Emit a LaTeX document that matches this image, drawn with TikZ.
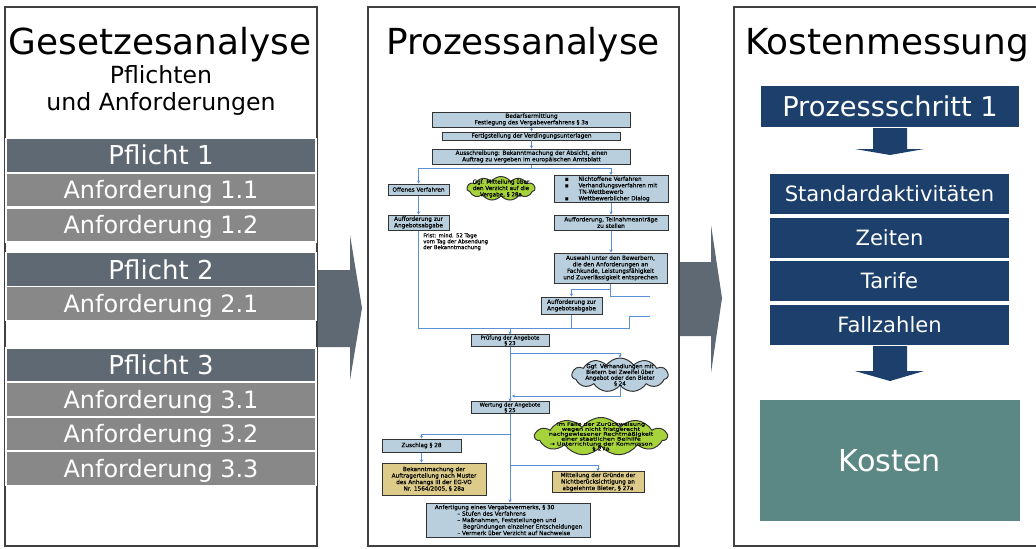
\documentclass[tikz,border=0pt]{standalone}
\usepackage{fontspec}
\setmainfont{DejaVu Sans}
\newfontfamily\ablaufschrift[FakeBold=0.35]{DejaVu Sans}
\newfontfamily\wolkenschrift[FakeStretch=1.3,FakeBold=0.35]{DejaVu Sans}
\usetikzlibrary{shapes.symbols,arrows.meta}
\definecolor{pflichtgrau}{RGB}{94,105,115}
\definecolor{anfgrau}{RGB}{136,136,136}
\definecolor{marine}{RGB}{28,63,107}
\definecolor{petrol}{RGB}{91,135,132}
\definecolor{hellblau}{RGB}{185,207,221}
\definecolor{sand}{RGB}{221,203,138}
\definecolor{gruen}{RGB}{166,211,58}
\definecolor{linienblau}{RGB}{91,143,214}
\definecolor{rahmen}{RGB}{64,64,64}

\begin{document}
\begin{tikzpicture}[x=0.025cm,y=-0.025cm]
\tikzstyle{panel}=[draw=rahmen,line width=0.8pt]
\tikzstyle{titel}=[font=\fontsize{25.5}{30}\selectfont,anchor=base,inner sep=0pt]
\tikzstyle{untertitel}=[font=\fontsize{16.8}{20}\selectfont,anchor=base,inner sep=0pt]
\tikzstyle{pflicht}=[rectangle,fill=pflichtgrau,draw=white,line width=0.8pt,text=white,minimum width=7.75cm,minimum height=0.85cm,text height=13.5pt,text depth=0pt,font=\fontsize{18.5}{22}\selectfont]
\tikzstyle{anf}=[pflicht,fill=anfgrau,text height=12.4pt,font=\fontsize{17}{20}\selectfont]
\tikzstyle{marinebox}=[rectangle,fill=marine,draw=white,line width=0.8pt,text=white,minimum width=6.025cm,minimum height=1.05cm,text height=11pt,text depth=0pt,font=\fontsize{15}{18}\selectfont]
\tikzstyle{ablauf}=[rectangle,draw=black!80,line width=0.7pt,fill=hellblau,inner sep=0.8pt,font=\ablaufschrift\fontsize{4.1}{4.6}\selectfont,align=center]
\tikzstyle{klein}=[ablauf,inner sep=0.4pt,font=\ablaufschrift\fontsize{3.8}{3.9}\selectfont]
\tikzstyle{sandbox}=[ablauf,fill=sand]
\tikzstyle{wolke}=[cloud,cloud puffs=11,cloud puff arc=110,draw=black!80,line width=0.7pt,inner sep=0pt]
\tikzstyle{wolketext}=[font=\ablaufschrift\fontsize{4}{4.5}\selectfont,align=center,inner sep=0pt]
\tikzstyle{fluss}=[draw=linienblau,line width=0.6pt]
\tikzstyle{pfeil}=[fluss,-{Stealth[length=2.2pt,width=2.4pt]}]

\useasboundingbox (0,0) rectangle (1036,548);

\fill[pflichtgrau] (318,270) -- (350,270) -- (350,235) -- (362,308) -- (350,380) -- (350,347) -- (318,347) -- cycle;
\fill[pflichtgrau] (679,262) -- (711,262) -- (711,225) -- (722,298) -- (711,373) -- (711,336) -- (679,336) -- cycle;

\draw[panel] (5,7) rectangle (317,546);
\draw[panel] (368,7) rectangle (679,546);
\draw[panel] (1036,7) -- (734,7) -- (734,546) -- (1036,546);

\node[titel] (gesetz) at (160,54) {Gesetzesanalyse};
\node[untertitel] (pflichten) at (161,83) {Pflichten};
\node[untertitel] (undanf) at (161,110) {und Anforderungen};
\node[pflicht] (p1) at (161,155.5) {Pflicht 1};
\node[anf] (a11) at (161,190) {Anforderung 1.1};
\node[anf] (a12) at (161,225) {Anforderung 1.2};
\node[pflicht] (p2) at (161,269.5) {Pflicht 2};
\node[anf] (a21) at (161,303.5) {Anforderung 2.1};
\node[pflicht] (p3) at (161,365) {Pflicht 3};
\node[anf] (a31) at (161,399.5) {Anforderung 3.1};
\node[anf] (a32) at (161,434) {Anforderung 3.2};
\node[anf] (a33) at (161,468.5) {Anforderung 3.3};

\node[titel] (prozess) at (523,54) {Prozessanalyse};
\node[ablauf,minimum width=4.925cm,minimum height=0.375cm] (bedarf) at (531.5,119.5) {Bedarfsermittlung\\Festlegung des Vergabeverfahrens § 3a};
\node[ablauf,minimum width=4.425cm,minimum height=0.2cm] (fertig) at (531.5,136) {Fertigstellung der Verdingungsunterlagen};
\node[ablauf,minimum width=4.925cm,minimum height=0.375cm] (ausschr) at (531.5,156.5) {Ausschreibung: Bekanntmachung der Absicht, einen\\Auftrag zu vergeben im europäischen Amtsblatt};
\node[ablauf,minimum width=1.525cm,minimum height=0.275cm] (offen) at (418.5,189.5) {Offenes Verfahren};
\node[wolke,fill=gruen,minimum width=1.7cm,minimum height=0.6cm] (wolke1) at (501,188.5) {};
\node[wolketext] (wolke1text) at (wolke1) {Ggf. Mitteilung über\\den Verzicht auf die\\Vergabe, § 28a};
\node[ablauf,align=left,minimum width=2.85cm,minimum height=0.65cm] (nichtoff) at (611,189) {▪\hspace{7pt}Nichtoffene Verfahren\\▪\hspace{7pt}Verhandlungsverfahren mit\\\hspace{10pt}TN-Wettbewerb\\▪\hspace{7pt}Wettbewerblicher Dialog};
\node[ablauf,align=left,minimum width=1.525cm,minimum height=0.375cm] (auff1) at (418.5,222.5) {Aufforderung zur\\Angebotsabgabe};
\node[ablauf,minimum width=2.85cm,minimum height=0.375cm] (teiln) at (611,222.5) {Aufforderung, Teilnahmeanträge\\zu stellen};
\node[wolketext,align=left,anchor=north west,font=\ablaufschrift\fontsize{3.8}{4.2}\selectfont] (frist) at (423,233) {Frist: mind. 52 Tage\\vom Tag der Absendung\\der Bekanntmachung};
\node[ablauf,minimum width=2.825cm,minimum height=0.75cm] (auswahl) at (610.5,268) {Auswahl unter den Bewerbern,\\die den Anforderungen an\\Fachkunde, Leistungsfähigkeit\\und Zuverlässigkeit entsprechen};
\node[ablauf,minimum width=1.525cm,minimum height=0.425cm] (auff2) at (571.5,305.5) {Aufforderung zur\\Angebotsabgabe};
\node[klein,minimum width=1.95cm,minimum height=0.275cm] (pruef) at (510,340.5) {Prüfung der Angebote\\§ 23};
\node[wolke,fill=hellblau,minimum width=2.4cm,minimum height=0.85cm] (wolke2) at (620,375) {};
\node[wolketext,font=\ablaufschrift\fontsize{4}{4.1}\selectfont] (wolke2text) at (wolke2) {Ggf. Verhandlungen mit\\Bietern bei Zweifel über\\Angebot oder den Bieter\\§ 24};
\node[klein,minimum width=1.95cm,minimum height=0.275cm] (wertung) at (510,407.5) {Wertung der Angebote\\§ 25};
\node[wolke,fill=gruen,minimum width=3.3cm,minimum height=0.95cm] (wolke3) at (601,436.5) {};
\node[wolketext,font=\wolkenschrift\fontsize{3.5}{3.5}\selectfont] (wolke3text) at (wolke3) {Im Falle der Zurückweisung\\wegen nicht fristgerecht\\nachgewiesener Rechtmäßigkeit\\einer staatlichen Beihilfe\\→ Unterrichtung der Kommisson\\§ 27a};
\node[ablauf,minimum width=1.975cm,minimum height=0.325cm] (zuschlag) at (421.5,445.5) {Zuschlag § 28};
\node[sandbox,minimum width=2.6cm,minimum height=0.8cm] (bekannt) at (434,479) {Bekanntmachung der\\Auftragerteilung nach Muster\\des Anhangs III der EG-VO\\Nr. 1564/2005, § 28a};
\node[sandbox,minimum width=2.3cm,minimum height=0.5cm] (mitteil) at (598,482) {Mitteilung der Gründe der\\Nichtberücksichtigung an\\abgelehnte Bieter, § 27a};
\node[ablauf,align=left,minimum width=4.075cm,minimum height=0.85cm] (anfert) at (508.5,520) {Anfertigung eines Vergabevermerks, § 30\\\hspace{16pt}– Stufen des Verfahrens\\\hspace{16pt}– Maßnahmen, Feststellungen und\\\hspace{20pt}Begründungen einzelner Entscheidungen\\\hspace{16pt}– Vermerk über Verzicht auf Nachweise};

\coordinate (verzw1) at (531.5,168);
\coordinate (verzw2) at (610.5,289);
\coordinate (knick1) at (629,328);
\coordinate (rechts1) at (650,316);
\coordinate (rechts2) at (650,296);
\coordinate (verzw3) at (510,353);
\coordinate (verzw4) at (512,396);
\coordinate (verzw5) at (510,434);
\coordinate (verzw6) at (510,465);

\draw[pfeil] (bedarf) -- (fertig);
\draw[pfeil] (fertig) -- (ausschr);
\draw[fluss] (ausschr.south) -- (verzw1);
\draw[pfeil] (verzw1) -| (offen.north);
\draw[pfeil] (verzw1) -| (nichtoff.north);
\draw[pfeil] (offen) -- (auff1);
\draw[pfeil] (nichtoff) -- (teiln);
\draw[pfeil] (teiln.south) -- (teiln.south |- auswahl.north);
\draw[fluss] (auswahl.south) |- (rechts2);
\draw[pfeil] (verzw2) -| (auff2.north);
\draw[fluss] (auff1.south) |- (knick1) |- (rechts1);
\draw[fluss] (auff2.south) -- (auff2.south |- knick1);
\draw[pfeil] (pruef.north |- knick1) -- (pruef.north);
\draw[pfeil] (pruef) -- (wertung);
\draw[pfeil] (verzw3) -| (wolke2.north);
\draw[pfeil] (wolke2.south) |- (verzw4);
\draw[pfeil] (wertung.south) -- (wertung.south |- anfert.north);
\draw[pfeil] (verzw5) -| (zuschlag.north);
\draw[pfeil] (zuschlag.south) -- (zuschlag.south |- bekannt.north);
\draw[pfeil] (verzw6) -| (mitteil.north);

\node[titel] (kosten) at (887,54) {Kostenmessung};
\node[marinebox,minimum width=6.5cm,text height=14pt,font=\fontsize{19.4}{23}\selectfont] (schritt) at (890,106.5) {Prozessschritt 1};
\fill[marine] (873,128) -- (907,128) -- (907,149) -- (924,149) -- (890,155) -- (855,149) -- (873,149) -- cycle;
\node[marinebox] (standard) at (889.5,194) {Standardaktivitäten};
\node[marinebox] (zeiten) at (889.5,238) {Zeiten};
\node[marinebox] (tarife) at (889.5,281) {Tarife};
\node[marinebox] (fall) at (889.5,325) {Fallzahlen};
\fill[marine] (873,346) -- (907,346) -- (907,371) -- (924,371) -- (890,381) -- (855,371) -- (873,371) -- cycle;
\node[rectangle,fill=petrol,text=white,minimum width=6.5cm,minimum height=3.025cm,font=\fontsize{21.5}{26}\selectfont] (kostenbox) at (890,460.5) {Kosten};
\end{tikzpicture}
\end{document}
